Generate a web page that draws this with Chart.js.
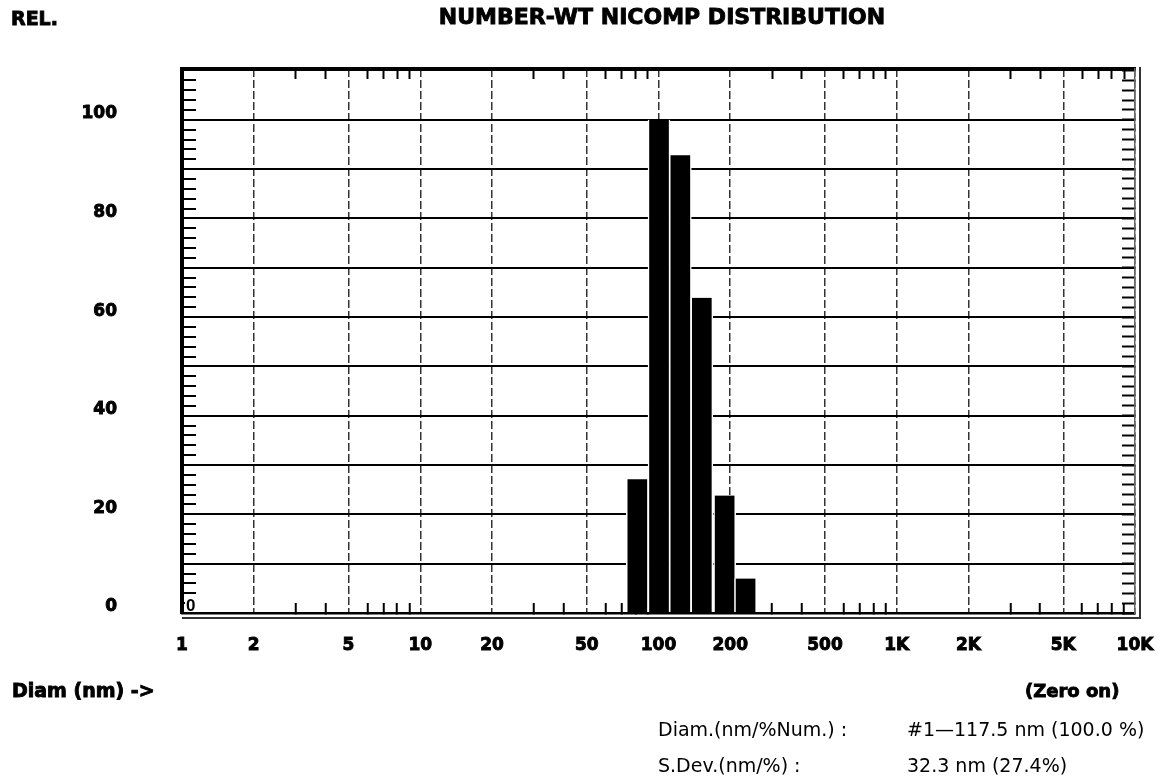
<!DOCTYPE html>
<html>
<head>
<meta charset="utf-8">
<title>Number-wt Nicomp distribution</title>
<script src="https://cdn.jsdelivr.net/npm/chart.js@4.4.0/dist/chart.umd.min.js"></script>
<style>
  html, body { margin: 0; padding: 0; background: #fff; }
  #wrap { width: 1170px; height: 776px; }
</style>
</head>
<body>
<div id="wrap"><canvas id="nicomp" width="1170" height="776"></canvas></div>
<script>
'use strict';

// bin diameters (nm)
const diameters = [81.5, 100.5, 123.5, 152, 189.5, 232];
// relative number weight of each bin
const relNumber = [27.1, 100, 92.8, 63.9, 23.8, 7.0];

// x axis: labelled diameters and their labels
const diamTicks = [1, 2, 5, 10, 20, 50, 100, 200, 500, 1000, 2000, 5000, 10000];
const diamLabels = ['1', '2', '5', '10', '20', '50', '100', '200', '500', '1K', '2K', '5K', '10K'];
// little marks between them
const diamMinor = [3, 4, 6, 7, 8, 9, 30, 40, 60, 70, 80, 90, 300, 400, 600, 700, 800, 900,
  3000, 4000, 6000, 7000, 8000, 9000];

// y axis
const relLabels = [0, 20, 40, 60, 80, 100];
const relMax = 110.3;
const relMinor = [];
for (let v = 0; v <= 110; v += 2) relMinor.push(v);

const FONT = 'DejaVu Sans';

// heavy text like the old plotter font
const heavy = (ctx, txt, x, y) => {
  ctx.lineWidth = 0.9;
  ctx.strokeStyle = '#000';
  ctx.strokeText(txt, x, y);
  ctx.fillText(txt, x, y);
};

// text round the plot + the shadow frame
const notes = {
  id: 'notes',
  afterDraw(chart) {
    const ctx = chart.ctx;
    const a = chart.chartArea;
    ctx.save();

    // second frame line, right and bottom
    ctx.strokeStyle = '#333';
    ctx.lineWidth = 2;
    ctx.beginPath();
    ctx.moveTo(a.left, a.bottom + 5);
    ctx.lineTo(a.right + 5, a.bottom + 5);
    ctx.lineTo(a.right + 5, a.top - 2);
    ctx.stroke();

    // the little "0" in the corner
    ctx.fillStyle = '#fff';
    ctx.fillRect(a.left + 3, a.bottom - 15, 12, 14);
    ctx.fillStyle = '#000';
    ctx.font = 'bold 17px "Liberation Sans"';
    ctx.textBaseline = 'middle';
    ctx.textAlign = 'left';
    ctx.fillText('0', a.left + 4, a.bottom - 7);

    ctx.font = 'bold 19px ' + FONT;
    heavy(ctx, 'REL.', 11, 20);
    ctx.font = 'bold 22px ' + FONT;
    ctx.textAlign = 'center';
    heavy(ctx, 'NUMBER-WT NICOMP DISTRIBUTION', 662, 18);

    ctx.textAlign = 'left';
    ctx.font = 'bold 19px ' + FONT;
    heavy(ctx, 'Diam (nm) ->', 12, 692);
    ctx.font = 'bold 18px ' + FONT;
    heavy(ctx, '(Zero on)', 1025, 692);

    ctx.font = '19px ' + FONT;
    ctx.fillText('Diam.(nm/%Num.) :', 658, 731);
    ctx.fillText('#1\u2014117.5 nm (100.0 %)', 907, 731);
    ctx.fillText('S.Dev.(nm/%) :', 658, 767);
    ctx.fillText('32.3 nm (27.4%)', 907, 767);
    ctx.restore();
  }
};

const isMajorDiam = v => diamTicks.includes(v);

// keep the plot box where it is: no extra room for end labels
const noPadX = s => { s.paddingLeft = 0; s.paddingRight = 0; };
const noPadY = s => { s.paddingTop = 0; s.paddingBottom = 0; };

const ctx = document.getElementById('nicomp').getContext('2d');

new Chart(ctx, {
  type: 'bar',
  data: {
    datasets: [{
      data: diameters.map((d, i) => ({ x: d, y: relNumber[i] })),
      backgroundColor: '#000',
      borderColor: '#fff',
      borderWidth: { left: 1.5, right: 1.5, top: 0, bottom: 0 },
      borderSkipped: false,
      barThickness: 22,
      xAxisID: 'x',
      yAxisID: 'y'
    }]
  },
  plugins: [notes],
  options: {
    responsive: false,
    animation: false,
    events: [],
    layout: { autoPadding: false, padding: { top: 69, left: 0, right: 0, bottom: 0 } },
    plugins: {
      legend: { display: false },
      tooltip: { enabled: false },
      title: { display: false }
    },
    scales: {
      x: {
        type: 'logarithmic',
        position: 'bottom',
        min: 1,
        max: 10000,
        offset: false,
        weight: 1,
        afterBuildTicks: s => { s.ticks = diamTicks.concat(diamMinor).sort((p, q) => p - q).map(v => ({ value: v })); },
        afterFit: s => { s.height = 163; noPadX(s); },
        ticks: {
          autoSkip: false,
          maxRotation: 0,
          padding: 32,
          color: '#000',
          textStrokeColor: '#000',
          textStrokeWidth: 0.9,
          font: { family: FONT, size: 17, weight: 'bold' },
          callback: v => {
            const i = diamTicks.indexOf(v);
            return i >= 0 ? diamLabels[i] : '';
          }
        },
        grid: {
          offset: false,
          color: c => (c.tick && isMajorDiam(c.tick.value) ? '#333' : 'rgba(0,0,0,0)'),
          lineWidth: 1.5,
          tickLength: -10,
          tickWidth: 2,
          tickColor: c => (c.tick && isMajorDiam(c.tick.value) ? 'rgba(0,0,0,0)' : '#000'),
          tickBorderDash: []
        },
        border: { display: true, color: '#000', width: 2.5, dash: [8, 3] }
      },
      x2: {
        type: 'logarithmic',
        position: 'top',
        min: 1,
        max: 10000,
        offset: false,
        afterBuildTicks: s => { s.ticks = diamMinor.map(v => ({ value: v })); },
        afterFit: s => { s.height = 0; noPadX(s); },
        ticks: { display: false },
        grid: {
          offset: false,
          drawOnChartArea: false,
          tickLength: -10,
          tickWidth: 2,
          tickColor: '#000'
        },
        border: { display: true, color: '#000', width: 3.5 }
      },
      y: {
        type: 'linear',
        position: 'left',
        min: 0,
        max: relMax,
        afterBuildTicks: s => { s.ticks = relMinor.map(v => ({ value: v })); },
        afterFit: s => { s.width = 182; noPadY(s); },
        ticks: {
          autoSkip: false,
          padding: 79,
          labelOffset: -6,
          color: '#000',
          textStrokeColor: '#000',
          textStrokeWidth: 0.9,
          font: { family: FONT, size: 17, weight: 'bold' },
          callback: v => (relLabels.includes(v) ? String(v) : '')
        },
        grid: {
          color: c => (c.tick && c.tick.value % 10 === 0 ? '#000' : 'rgba(0,0,0,0)'),
          lineWidth: 2,
          tickLength: -14,
          tickWidth: 2,
          tickColor: '#000'
        },
        border: { display: true, color: '#000', width: 4 }
      },
      y2: {
        type: 'linear',
        position: 'right',
        min: 0,
        max: relMax,
        afterBuildTicks: s => { s.ticks = relMinor.map(v => ({ value: v })); },
        afterFit: s => { s.width = 35; noPadY(s); },
        ticks: { display: false },
        grid: {
          drawOnChartArea: false,
          tickLength: -13,
          tickWidth: 2,
          tickColor: '#000'
        },
        border: { display: true, color: '#666', width: 1.5 }
      }
    }
  }
});
</script>
</body>
</html>
